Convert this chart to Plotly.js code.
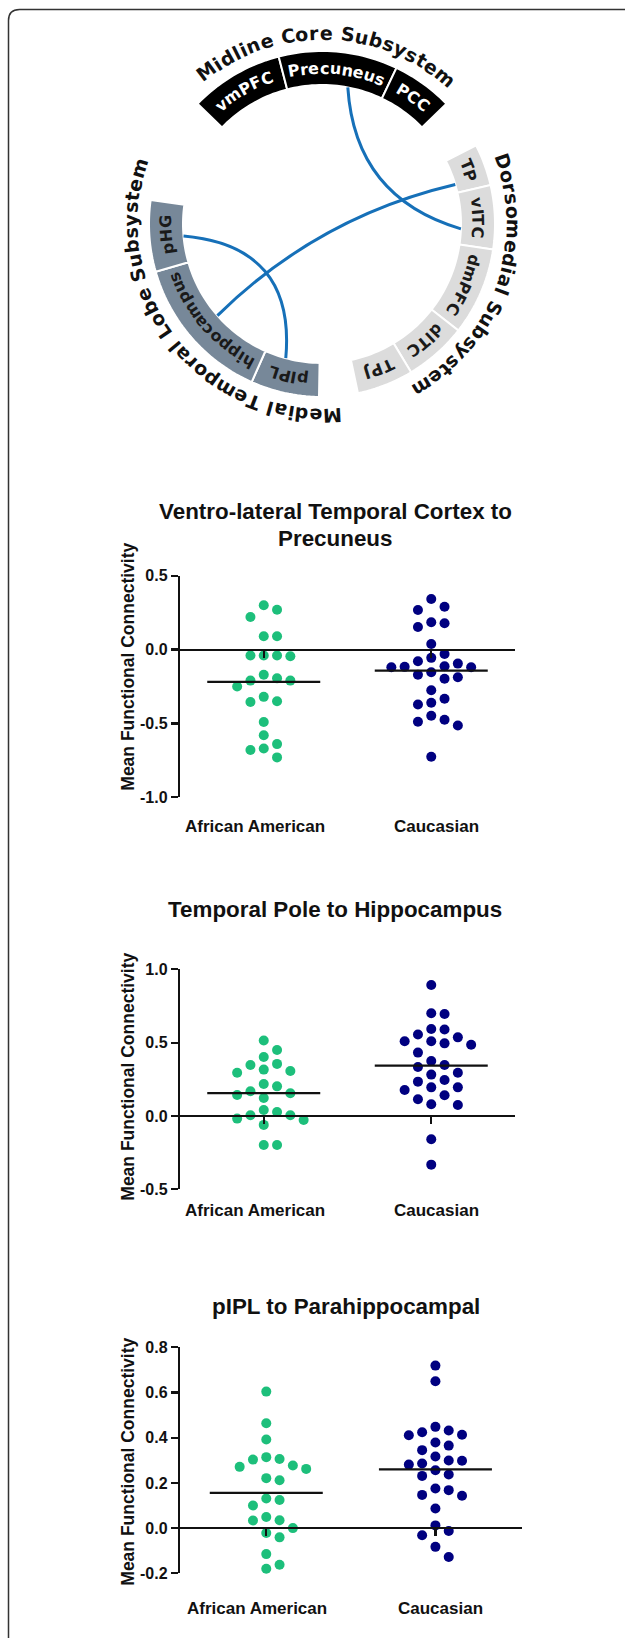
<!DOCTYPE html>
<html>
<head>
<meta charset="utf-8">
<script src="https://cdn.plot.ly/plotly-3.0.1.min.js"></script>
<style>
html, body { margin: 0; padding: 0; background: #ffffff; }
#chart { width: 625px; height: 1638px; }
</style>
</head>
<body>
<div id="chart"></div>
<script>
// ======================= DATA =======================
const categories = ['African American', 'Caucasian'];
const yAxisTitle = 'Mean Functional Connectivity';
const panelTitles = [
  'Ventro-lateral Temporal Cortex to<br>Precuneus',
  'Temporal Pole to Hippocampus',
  'pIPL to Parahippocampal'
];

// Panel 1: Ventro-lateral Temporal Cortex to Precuneus
const vltcPrecAA = [0.27, 0.30, 0.22, 0.09, 0.09, -0.04, -0.04, -0.045, -0.04, -0.17, -0.21, -0.25,
  -0.21, -0.195, -0.35, -0.355, -0.32, -0.49, -0.58, -0.67, -0.64, -0.68, -0.73];
const vltcPrecCA = [0.342, 0.268, 0.29, 0.178, 0.153, 0.185, 0.038, -0.056, -0.03, -0.079, -0.095,
  -0.117, -0.12, -0.12, -0.113, -0.171, -0.153, -0.187, -0.198, -0.275, -0.333, -0.372, -0.36,
  -0.448, -0.489, -0.514, -0.475, -0.725];

// Panel 2: Temporal Pole to Hippocampus
const tpHippAA = [0.514, 0.45, 0.402, 0.355, 0.348, 0.316, 0.295, 0.307, 0.202, 0.218, 0.155, 0.143,
  0.168, 0.123, 0.027, 0.005, 0.041, 0.005, -0.027, -0.018, -0.061, -0.198, -0.198];
const tpHippCA = [0.893, 0.70, 0.695, 0.59, 0.593, 0.536, 0.555, 0.509, 0.509, 0.486, 0.495, 0.432,
  0.375, 0.334, 0.348, 0.282, 0.295, 0.234, 0.245, 0.195, 0.195, 0.177, 0.141, 0.114, 0.075, 0.08,
  -0.159, -0.332];

// Panel 3: pIPL to Parahippocampal
const piplPhgAA = [0.604, 0.464, 0.392, 0.306, 0.303, 0.314, 0.271, 0.277, 0.262, 0.221, 0.212, 0.131,
  0.124, 0.10, 0.035, 0.034, 0.049, 0.0, -0.041, -0.022, -0.115, -0.162, -0.18];
const piplPhgCA = [0.719, 0.65, 0.448, 0.424, 0.411, 0.432, 0.413, 0.365, 0.379, 0.345, 0.317, 0.286,
  0.299, 0.298, 0.281, 0.256, 0.231, 0.237, 0.168, 0.175, 0.147, 0.143, 0.087, 0.012, -0.013, -0.032,
  -0.083, -0.128];

// Tick values / labels
const tickVals1 = [-1.0, -0.5, 0.0, 0.5];
const tickText1 = ['-1.0', '-0.5', '0.0', '0.5'];
const tickVals2 = [-0.5, 0.0, 0.5, 1.0];
const tickText2 = ['-0.5', '0.0', '0.5', '1.0'];
const tickVals3 = [-0.2, 0.0, 0.2, 0.4, 0.6, 0.8];
const tickText3 = ['-0.2', '0.0', '0.2', '0.4', '0.6', '0.8'];

// Network diagram
const subsystemNames = ['Midline Core Subsystem', 'Dorsomedial Subsystem', 'Medial Temporal Lobe Subsystem'];
const regionNames = ['vmPFC', 'Precuneus', 'PCC', 'TP', 'vITC', 'dmPFC', 'dlTC', 'TPJ', 'pIPL', 'hippocampus', 'pHG'];
const regionGroup = [0, 0, 0, 1, 1, 1, 1, 1, 2, 2, 2];
const regionStartDeg = [-46, -14.5, 25.5, 63, 77, 98.5, 128, 149, 181, 204, 254];
const regionEndDeg = [-14.5, 25.5, 46, 77, 98.5, 128, 149, 168, 204, 254, 278];
const linkFrom = ['Precuneus', 'TP', 'pHG'];
const linkTo = ['vITC', 'hippocampus', 'pIPL'];
const linkFromDeg = [10.7, 73.5, 265];
const linkToDeg = [92, 228.8, 195.1];

// ======================= STYLE / LAYOUT =======================
const W = 625, H = 1638;
const FONT = 'Liberation Sans, Arial, sans-serif';
const DFONT = 'DejaVu Sans';
const GREEN = '#1dbf7b', NAVY = '#000080', INK = '#111111';
const groupFill = ['#000000', '#dcdcdc', '#778899'];
const groupText = ['#ffffff', '#1a1a1a', '#1a1a1a'];
const groupLabelDeg = [1.5, 110, 232];
const linkBend = [0.4, -0.28, 0.3];
const LINK_COLOR = '#1670b8';
const CX = 322, CY = 224, R_IN = 139, R_OUT = 173, R_LABEL = 156, R_GROUP = 191.5;

const panelData = [[vltcPrecAA, vltcPrecCA], [tpHippAA, tpHippCA], [piplPhgAA, piplPhgCA]];
const panelTicks = [[tickVals1, tickText1], [tickVals2, tickText2], [tickVals3, tickText3]];
const panelBox = [
  {left: 180, right: 515, top: 575.7, bottom: 797.3, yr: [-1, 0.5], xr: [-0.5, 1.5], titleX: 335, titleY: 511.7, labelY: 826.7, yTitleY: 666.7},
  {left: 180, right: 515, top: 969.3, bottom: 1189.3, yr: [-0.5, 1.0], xr: [-0.5, 1.5], titleX: 335, titleY: 909.3, labelY: 1210, yTitleY: 1076.7},
  {left: 180, right: 521.7, top: 1347.3, bottom: 1573.3, yr: [-0.2, 0.8], xr: [-0.51, 1.51], titleX: 345.7, titleY: 1306.7, labelY: 1608.3, yTitleY: 1461.7}
];
const catShift = [-9, 5];
const STEP = 13.3, MIND = 12, MEAN_HALF = 56.5, TITLE_LINE = 26.6;

const px2x = p => p / W;
const py2y = p => 1 - p / H;

function pt(deg, r) {
  const a = deg * Math.PI / 180;
  return [CX + r * Math.sin(a), CY - r * Math.cos(a)];
}
function polyPath(points, close) {
  return points.map((p, i) => (i ? 'L' : 'M') + px2x(p[0]).toFixed(5) + ',' + py2y(p[1]).toFixed(5)).join(' ') + (close ? ' Z' : '');
}
function mean(a) { return a.reduce((s, v) => s + v, 0) / a.length; }

function swarm(vals, pxPerY) {
  const idx = vals.map((v, i) => i).sort((a, b) => vals[b] - vals[a]);
  const placed = [];
  const off = new Array(vals.length).fill(0);
  const order = [0, 1, -1, 2, -2, 3, -3, 4, -4, 5, -5];
  idx.forEach(i => {
    for (const k of order) {
      const ok = placed.every(p => {
        const dx = (k - p.k) * STEP, dy = (vals[i] - p.v) * pxPerY;
        return dx * dx + dy * dy >= MIND * MIND;
      });
      if (ok) { off[i] = k; placed.push({k: k, v: vals[i]}); break; }
    }
  });
  return off;
}

const traces = [];
const shapes = [];
const annotations = [];
const layout = {
  width: W, height: H,
  margin: {l: 0, r: 0, t: 0, b: 0, pad: 0},
  paper_bgcolor: '#ffffff', plot_bgcolor: 'rgba(0,0,0,0)',
  showlegend: false,
  font: {family: FONT, color: INK}
};

// ---------- scatter panels ----------
panelBox.forEach((P, j) => {
  const n = j + 1;
  const sfx = n > 1 ? String(n) : '';
  const xRef = 'x' + sfx, yRef = 'y' + sfx;
  const pxPerY = (P.bottom - P.top) / (P.yr[1] - P.yr[0]);
  const pxPerX = (P.right - P.left) / (P.xr[1] - P.xr[0]);
  const groups = panelData[j];

  groups.forEach((vals, c) => {
    const off = swarm(vals, pxPerY);
    traces.push({
      type: 'scatter', mode: 'markers', xaxis: xRef, yaxis: yRef,
      x: vals.map((v, i) => c + off[i] * STEP / pxPerX), y: vals,
      marker: {size: 10, color: c ? NAVY : GREEN, line: {width: 0}},
      cliponaxis: false, hoverinfo: 'skip'
    });
  });
  groups.forEach((vals, c) => {
    const m = mean(vals);
    traces.push({
      type: 'scatter', mode: 'lines', xaxis: xRef, yaxis: yRef,
      x: [c - MEAN_HALF / pxPerX, c + MEAN_HALF / pxPerX], y: [m, m],
      line: {color: INK, width: 2.2}, cliponaxis: false, hoverinfo: 'skip'
    });
  });

  const yDom = [py2y(P.bottom), py2y(P.top)];
  const zeroPos = yDom[0] + (0 - P.yr[0]) / (P.yr[1] - P.yr[0]) * (yDom[1] - yDom[0]);
  layout['yaxis' + sfx] = {
    domain: yDom, range: P.yr, anchor: xRef,
    showline: true, linewidth: 2.2, linecolor: INK,
    ticks: 'outside', ticklen: 7, tickwidth: 2.2, tickcolor: INK,
    tickvals: panelTicks[j][0], ticktext: panelTicks[j][1],
    tickfont: {family: FONT, size: 16, color: INK, weight: 'bold'},
    showgrid: false, zeroline: false, fixedrange: true
  };
  layout['xaxis' + sfx] = {
    domain: [px2x(P.left), px2x(P.right)], range: P.xr,
    anchor: 'free', position: zeroPos,
    showline: true, linewidth: 2.2, linecolor: INK,
    ticks: 'outside', ticklen: 7, tickwidth: 2.2, tickcolor: INK,
    tickvals: [0, 1], showticklabels: false,
    showgrid: false, zeroline: false, fixedrange: true
  };

  // title (possibly two lines)
  panelTitles[j].split('<br>').forEach((line, k) => {
    annotations.push({
      xref: 'paper', yref: 'paper', x: px2x(P.titleX), y: py2y(P.titleY + k * TITLE_LINE),
      text: line, showarrow: false, xanchor: 'center', yanchor: 'middle',
      font: {family: FONT, size: 22.4, color: INK, weight: 'bold'}
    });
  });
  // y-axis title
  annotations.push({
    xref: 'paper', yref: 'paper', x: px2x(128), y: py2y(P.yTitleY),
    text: yAxisTitle, textangle: -90, showarrow: false, xanchor: 'center', yanchor: 'middle',
    font: {family: FONT, size: 17.5, color: INK, weight: 'bold'}
  });
  // category labels
  categories.forEach((cat, c) => {
    annotations.push({
      xref: xRef, yref: 'paper', x: c, y: py2y(P.labelY), xshift: catShift[c],
      text: cat, showarrow: false, xanchor: 'center', yanchor: 'middle',
      font: {family: FONT, size: 17, color: INK, weight: 'bold'}
    });
  });
});

// ---------- figure border (rounded corner, open to right/bottom) ----------
(function () {
  const bx = 8.5, by = 9.5, rad = 11;
  const path = 'M' + px2x(bx) + ',' + py2y(H + 40) +
    ' L' + px2x(bx) + ',' + py2y(by + rad) +
    ' Q' + px2x(bx) + ',' + py2y(by) + ' ' + px2x(bx + rad) + ',' + py2y(by) +
    ' L' + px2x(W + 40) + ',' + py2y(by);
  shapes.push({type: 'path', xref: 'paper', yref: 'paper', path: path, line: {color: '#333333', width: 1.5}, layer: 'above'});
})();

// ---------- network diagram ----------
regionNames.forEach((name, i) => {
  const a0 = regionStartDeg[i], a1 = regionEndDeg[i];
  const N = Math.max(8, Math.ceil((a1 - a0) / 1.5));
  const pts = [];
  for (let k = 0; k <= N; k++) pts.push(pt(a0 + (a1 - a0) * k / N, R_OUT));
  for (let k = N; k >= 0; k--) pts.push(pt(a0 + (a1 - a0) * k / N, R_IN));
  shapes.push({
    type: 'path', xref: 'paper', yref: 'paper', path: polyPath(pts, true),
    fillcolor: groupFill[regionGroup[i]], line: {color: '#ffffff', width: 2}, layer: 'above'
  });
});

linkFrom.forEach((f, i) => {
  const p0 = pt(linkFromDeg[i], R_IN), p1 = pt(linkToDeg[i], R_IN);
  const mx = (p0[0] + p1[0]) / 2, my = (p0[1] + p1[1]) / 2;
  const b = linkBend[i];
  const c = [CX + b * (mx - CX), CY + b * (my - CY)];
  const path = 'M' + px2x(p0[0]) + ',' + py2y(p0[1]) + ' Q' + px2x(c[0]) + ',' + py2y(c[1]) + ' ' + px2x(p1[0]) + ',' + py2y(p1[1]);
  shapes.push({type: 'path', xref: 'paper', yref: 'paper', path: path, line: {color: LINK_COLOR, width: 3}, layer: 'above'});
});

const measureCtx = document.createElement('canvas').getContext('2d');
function arcText(text, centerDeg, r, size, color, tracking) {
  measureCtx.font = 'bold ' + size + 'px "' + DFONT + '"';
  const chars = Array.from(text);
  const w = chars.map(ch => measureCtx.measureText(ch).width);
  const total = w.reduce((a, b) => a + b, 0) + tracking * (chars.length - 1);
  let s = -total / 2;
  chars.forEach((ch, i) => {
    const mid = s + w[i] / 2;
    s += w[i] + tracking;
    if (ch === ' ') return;
    const deg = centerDeg + mid / r * 180 / Math.PI;
    const p = pt(deg, r);
    let ang = deg;
    while (ang > 180) ang -= 360;
    while (ang < -180) ang += 360;
    annotations.push({
      xref: 'paper', yref: 'paper', x: px2x(p[0]), y: py2y(p[1]),
      text: ch, showarrow: false, textangle: ang, xanchor: 'center', yanchor: 'middle',
      borderpad: 0, borderwidth: 0,
      font: {family: DFONT, size: size, color: color, weight: 'bold'}
    });
  });
}

subsystemNames.forEach((name, g) => arcText(name, groupLabelDeg[g], R_GROUP, 19, INK, 0.9));
regionNames.forEach((name, i) => {
  const g = regionGroup[i];
  arcText(name, (regionStartDeg[i] + regionEndDeg[i]) / 2, R_LABEL, 16, groupText[g], 0.5);
});

layout.shapes = shapes;
layout.annotations = annotations;

Plotly.newPlot('chart', traces, layout, {staticPlot: true, displayModeBar: false});
</script>
</body>
</html>
